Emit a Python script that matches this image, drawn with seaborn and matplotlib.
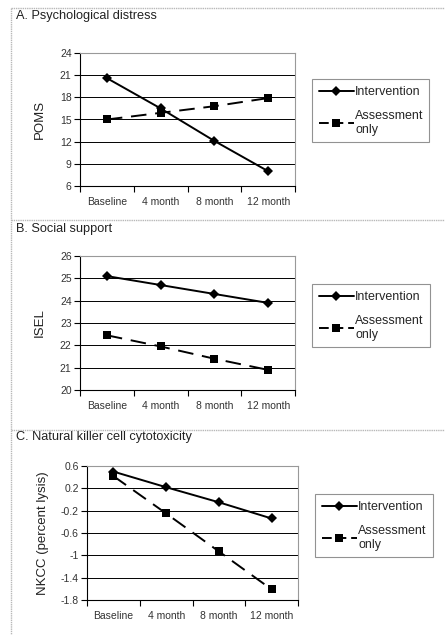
import matplotlib
matplotlib.use("Agg")
import matplotlib.pyplot as plt
import seaborn as sns
import pandas as pd
from matplotlib.lines import Line2D
from matplotlib.ticker import FixedLocator

sns.set_style("white")
plt.rcParams['font.family'] = ['Liberation Sans', 'DejaVu Sans']

timepoints = ["Baseline", "4 month", "8 month", "12 month"]
groups = ["Intervention", "Assessment\nonly"]

poms_intervention = [20.6, 16.5, 12.1, 8.0]
poms_assessment = [15.0, 15.9, 16.8, 17.9]
isel_intervention = [25.1, 24.7, 24.3, 23.9]
isel_assessment = [22.45, 21.95, 21.4, 20.9]
nkcc_intervention = [0.5, 0.22, -0.05, -0.34]
nkcc_assessment = [0.42, -0.25, -0.93, -1.61]

panel_titles = ["A. Psychological distress", "B. Social support",
                "C. Natural killer cell cytotoxicity"]
ylabels = ["POMS", "ISEL", "NKCC (percent lysis)"]
yticks_list = [[6, 9, 12, 15, 18, 21, 24],
               [20, 21, 22, 23, 24, 25, 26],
               [-1.8, -1.4, -1, -0.6, -0.2, 0.2, 0.6]]
ytick_labels_list = [["6", "9", "12", "15", "18", "21", "24"],
                     ["20", "21", "22", "23", "24", "25", "26"],
                     ["-1.8", "-1.4", "-1", "-0.6", "-0.2", "0.2", "0.6"]]
series = [(poms_intervention, poms_assessment),
          (isel_intervention, isel_assessment),
          (nkcc_intervention, nkcc_assessment)]

W, H = 445, 635
fig = plt.figure(figsize=(W / 100, H / 100), dpi=100)

def fx(px):
    return px / W

def fy(py):
    return 1 - py / H

layout = [
    dict(ax=(80, 295, 53, 186), leg=(312, 429, 79, 144), ty=16, border=8, ylx=40),
    dict(ax=(80, 295, 256, 390), leg=(312, 430, 284, 347), ty=229, border=220, ylx=40),
    dict(ax=(87, 298, 466, 600), leg=(315, 433, 494, 556), ty=437, border=430, ylx=43),
]

border_color = "#b8b8b8"
fig.add_artist(Line2D([fx(11), fx(11)], [fy(8), 0], transform=fig.transFigure,
                      color=border_color, lw=1.0, linestyle=(0, (1, 0.6))))

dash_pat = (8, 4.5)
markers = {groups[0]: "D", groups[1]: "s"}
dashes = {groups[0]: "", groups[1]: dash_pat}
palette = {groups[0]: "black", groups[1]: "black"}

for i, lay in enumerate(layout):
    l, r, t, b = lay["ax"]
    ax = fig.add_axes([fx(l), fy(b), fx(r - l), (b - t) / H])
    inter, assess = series[i]
    df = pd.DataFrame({
        "time": timepoints * 2,
        "value": list(inter) + list(assess),
        "group": [groups[0]] * 4 + [groups[1]] * 4,
    })
    sns.lineplot(data=df, x="time", y="value", hue="group", style="group",
                 markers=markers, dashes=dashes, palette=palette, sort=False,
                 ax=ax, legend=False, linewidth=1.4, markeredgewidth=0)
    for ln, grp in zip(ax.lines, groups):
        ln.set_markersize(5 if grp == groups[0] else 6)
    ax.set_xlim(-0.5, 3.5)
    yt = yticks_list[i]
    ax.set_ylim(yt[0], yt[-1])
    ax.set_yticks(yt)
    ax.set_yticklabels(ytick_labels_list[i], fontsize=7.5, color="#333333")
    ax.set_xticks(range(4))
    ax.set_xticklabels(timepoints, fontsize=7.5, color="#333333")
    ax.xaxis.set_minor_locator(FixedLocator([-0.5, 0.5, 1.5, 2.5, 3.5]))
    ax.tick_params(axis="x", which="major", length=0, pad=8)
    ax.tick_params(axis="x", which="minor", length=4, width=0.8, direction="out",
                   color="black", bottom=True)
    ax.tick_params(axis="y", which="major", length=4, width=0.8, direction="out",
                   color="black", left=True, pad=2)
    for v in yt[1:-1]:
        ax.axhline(v, color="black", lw=0.7, zorder=0)
    ax.spines["left"].set_color("black")
    ax.spines["bottom"].set_color("black")
    ax.spines["top"].set_color("#999999")
    ax.spines["right"].set_color("#999999")
    for s in ax.spines.values():
        s.set_linewidth(0.8)
    ax.set_xlabel("")
    ax.set_ylabel("")
    fig.text(fx(lay["ylx"]), fy((t + b) / 2), ylabels[i], rotation=90,
             ha="center", va="center", fontsize=9.5, color="#222222")
    fig.text(fx(16), fy(lay["ty"]), panel_titles[i], ha="left", va="center",
             fontsize=9.2, color="#222222")
    fig.add_artist(Line2D([fx(11), 1], [fy(lay["border"]), fy(lay["border"])],
                          transform=fig.transFigure, color=border_color, lw=1.0,
                          linestyle=(0, (1, 0.6))))
    ll, lr, lt, lb = lay["leg"]
    handles = [Line2D([], [], color="black", lw=1.4, marker="D", markersize=5,
                      markeredgewidth=0),
               Line2D([], [], color="black", lw=1.4, marker="s", markersize=6,
                      markeredgewidth=0, linestyle=(0, (5, 2.5)))]
    leg = ax.legend(handles, groups, loc="upper left",
                    bbox_to_anchor=(fx(ll), fy(lb), fx(lr - ll), (lb - lt) / H),
                    bbox_transform=fig.transFigure, mode="expand",
                    fontsize=9.0, frameon=True, fancybox=False, handlelength=2.8,
                    handletextpad=0.1, borderpad=0.55, labelspacing=0.95,
                    borderaxespad=0)
    leg.get_frame().set_edgecolor("#777777")
    leg.get_frame().set_linewidth(0.8)

fig.savefig("out.png", dpi=100)
